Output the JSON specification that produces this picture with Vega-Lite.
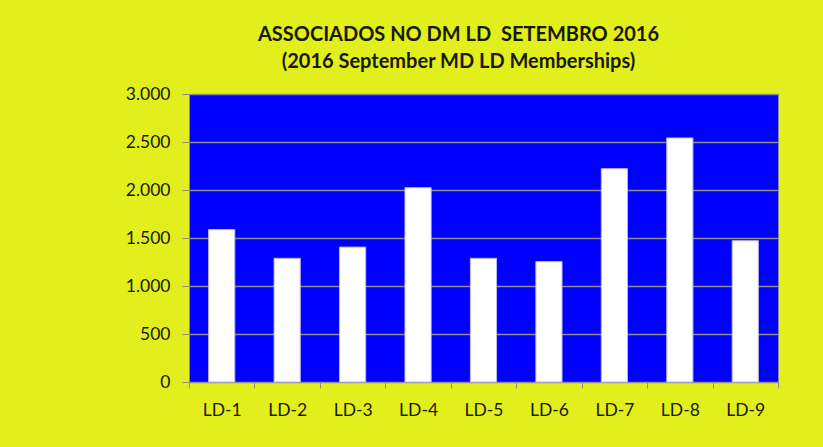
{
  "$schema": "https://vega.github.io/schema/vega-lite/v6.json",
  "width": 589,
  "height": 288,
  "autosize": {"type": "none"},
  "padding": {"left": 189, "top": 94, "right": 45, "bottom": 65},
  "background": "#e2ef1c",
  "config": {
    "locale": {"number": {"decimal": ",", "thousands": ".", "grouping": [3], "currency": ["", ""]}},
    "view": {"fill": "#0000ff", "stroke": "#8c8c8c", "strokeWidth": 1},
    "font": "Lato"
  },
  "title": {
    "text": "ASSOCIADOS NO DM LD\u00a0 SETEMBRO 2016",
    "subtitle": "(2016 September MD LD Memberships)",
    "anchor": "middle",
    "dx": -25,
    "offset": 13,
    "font": "Lato",
    "fontSize": 20,
    "fontWeight": "bold",
    "color": "#1a1a00",
    "subtitleFont": "Lato",
    "subtitleFontSize": 20,
    "subtitleFontWeight": "bold",
    "subtitleFontStyle": "normal",
    "subtitleColor": "#1a1a00",
    "subtitlePadding": 7
  },
  "data": {
    "values": [
      {"district": "LD-1", "members": 1588},
      {"district": "LD-2", "members": 1288},
      {"district": "LD-3", "members": 1405},
      {"district": "LD-4", "members": 2024},
      {"district": "LD-5", "members": 1288},
      {"district": "LD-6", "members": 1254},
      {"district": "LD-7", "members": 2222},
      {"district": "LD-8", "members": 2542},
      {"district": "LD-9", "members": 1472}
    ]
  },
  "mark": {"type": "bar", "fill": "#ffffff", "stroke": "#b8b8e8", "strokeWidth": 1, "width": {"band": 0.4}},
  "encoding": {
    "x": {
      "field": "district",
      "type": "nominal",
      "scale": {"paddingInner": 0, "paddingOuter": 0},
      "axis": {
        "title": null,
        "labelAngle": 0,
        "labelFont": "Lato",
        "labelFontSize": 17.5,
        "labelColor": "#1a1a00",
        "labelPadding": 13,
        "tickBand": "extent",
        "tickColor": "#8c8c8c",
        "tickSize": 6,
        "domainColor": "#8c8c8c",
        "grid": false
      }
    },
    "y": {
      "field": "members",
      "type": "quantitative",
      "scale": {"domain": [0, 3000]},
      "axis": {
        "title": null,
        "values": [0, 500, 1000, 1500, 2000, 2500, 3000],
        "format": ",d",
        "labelFont": "Lato",
        "labelFontSize": 17.5,
        "labelColor": "#1a1a00",
        "labelPadding": 12,
        "tickColor": "#8c8c8c",
        "tickSize": 7,
        "domainColor": "#8c8c8c",
        "grid": true,
        "gridColor": "#8c8c8c",
        "gridWidth": 1.5
      }
    }
  }
}
